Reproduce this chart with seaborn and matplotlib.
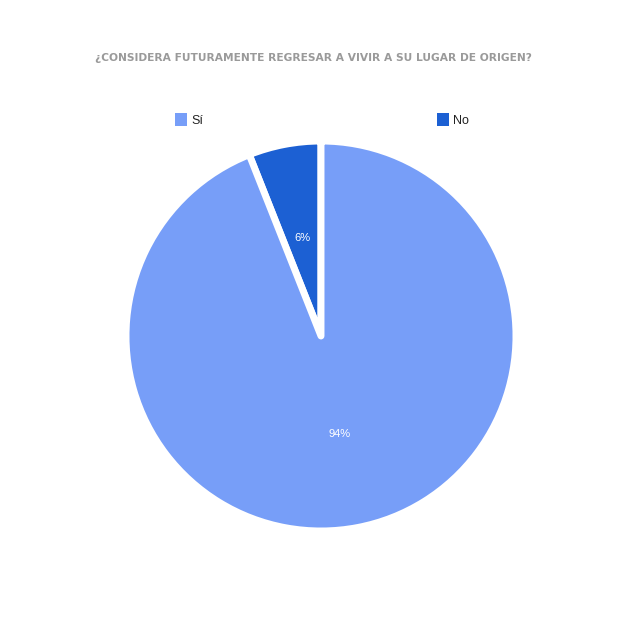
import matplotlib
matplotlib.use("Agg")
import matplotlib.pyplot as plt
import seaborn as sns
from matplotlib.patches import Patch

# data
labels = ["Sí", "No"]
values = [94, 6]
colors = ["#779ef8", "#1c60d3"]
title = "¿CONSIDERA FUTURAMENTE REGRESAR A VIVIR A SU LUGAR DE ORIGEN?"

sns.set_theme(style="white")
plt.rcParams['font.family'] = ['Liberation Sans', 'DejaVu Sans']

fig = plt.figure(figsize=(6.38, 6.29), dpi=100)
ax = fig.add_axes([126 / 638, 98 / 629, 390 / 638, 390 / 629])

# draw "No" first so it sits just left of 12 o'clock, like the original
order = [1, 0]
wedges, texts, autotexts = ax.pie(
    [values[i] for i in order],
    colors=[colors[i] for i in order],
    startangle=90,
    counterclock=True,
    autopct='%1.0f%%',
    pctdistance=0.51,
    textprops=dict(color='white', fontsize=8),
    wedgeprops=dict(edgecolor='white', linewidth=5, joinstyle='round'),
)
ax.set_xlim(-1, 1)
ax.set_ylim(-1, 1)
ax.set_aspect('equal')
ax.axis('off')

# the original title is letter-spaced; a wider face gets the width closer
fig.text(313 / 638, 1 - 58 / 629, title, ha='center', va='center',
         fontsize=7.7, fontweight='bold', color='#9a9a9a',
         family=['DejaVu Sans'])

handles = [Patch(facecolor=colors[i], edgecolor='none') for i in range(len(labels))]
fig.legend(handles, labels, ncol=2, loc='center', bbox_to_anchor=(322 / 638, 1 - 120 / 629),
           frameon=False, fontsize=9, handlelength=0.95, handleheight=1.2,
           handletextpad=0.35, columnspacing=18.65, labelcolor='#222222',
           prop=dict(family='Liberation Sans', size=9))

fig.savefig("out.png", dpi=100, facecolor='white')
